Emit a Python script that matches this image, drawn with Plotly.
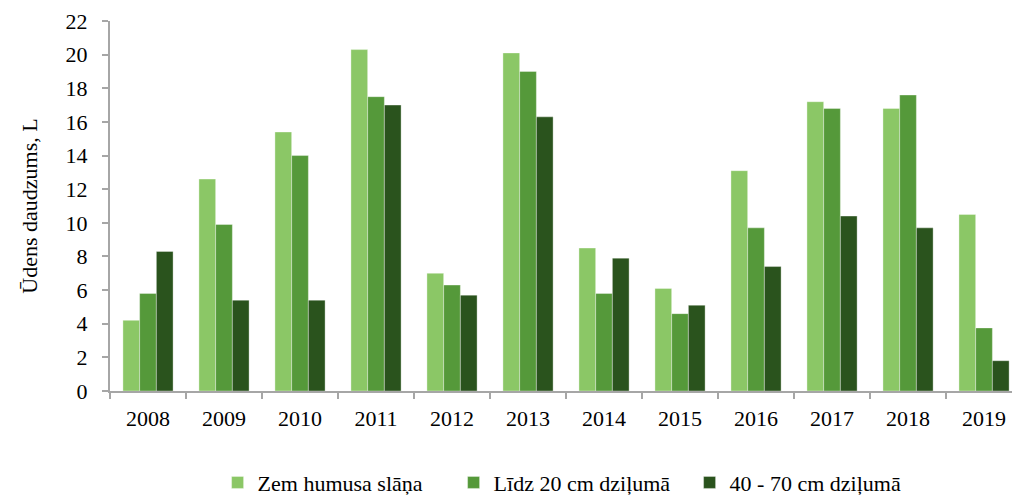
import plotly.graph_objects as go

years = ["2008", "2009", "2010", "2011", "2012", "2013", "2014", "2015", "2016", "2017", "2018", "2019"]
zem_humusa = [4.2, 12.6, 15.4, 20.3, 7.0, 20.1, 8.5, 6.1, 13.1, 17.2, 16.8, 10.5]
lidz_20 = [5.8, 9.9, 14.0, 17.5, 6.3, 19.0, 5.8, 4.6, 9.7, 16.8, 17.6, 3.75]
dzilums_40_70 = [8.3, 5.4, 5.4, 17.0, 5.7, 16.3, 7.9, 5.1, 7.4, 10.4, 9.7, 1.8]

series_names = ["Zem humusa slāņa", "Līdz 20 cm dziļumā", "40 - 70 cm dziļumā"]
colors = ["#8BC766", "#55993A", "#2A531D"]

fig = go.Figure()
for name, vals, col in zip(series_names, [zem_humusa, lidz_20, dzilums_40_70], colors):
    fig.add_trace(go.Bar(
        x=years, y=vals, name=name,
        marker=dict(color=col, line=dict(color="rgba(255,255,255,0.35)", width=1)),
    ))

font_family = "Liberation Serif, Times New Roman, serif"
fig.update_layout(
    width=1012, height=495,
    margin=dict(l=110, r=0, t=21, b=104),
    paper_bgcolor="white", plot_bgcolor="white",
    barmode="group", bargap=0.34, bargroupgap=0,
    font=dict(family=font_family, size=22, color="black"),
    showlegend=True,
    legend=dict(orientation="h", xref="container", yref="container",
                x=0.215, xanchor="left", y=0.025, yanchor="middle",
                font=dict(family=font_family, size=22), entrywidth=191,
                traceorder="normal"),
)
fig.update_xaxes(
    type="category", range=[-0.5, 11.368],
    showline=True, linecolor="#A6A6A6", linewidth=2,
    ticks="outside", tickson="boundaries", ticklen=6, tickcolor="#A6A6A6", tickwidth=2,
    showgrid=False, tickfont=dict(size=22), ticklabelstandoff=7,
    automargin=False,
)
fig.update_yaxes(
    range=[0, 22], dtick=2, tick0=0,
    showline=True, linecolor="#A6A6A6", linewidth=2,
    ticks="outside", ticklen=6, tickcolor="#A6A6A6", tickwidth=2,
    showgrid=False, zeroline=False, tickfont=dict(size=22), ticklabelstandoff=10,
    title=dict(text="Ūdens daudzums, L", font=dict(size=22), standoff=22),
    automargin=True,
)
fig.write_html(
    "out.html",
    config={"displayModeBar": False},
    post_script="document.body.style.margin='0px';document.body.style.overflow='hidden';",
)
